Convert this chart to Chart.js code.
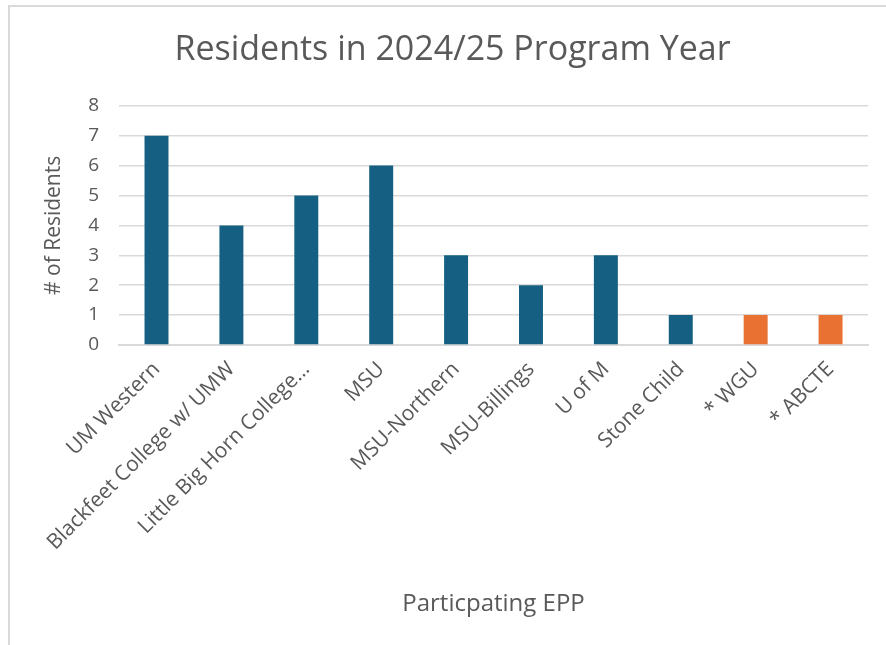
<!DOCTYPE html>
<html>
<head>
<meta charset="utf-8">
<script src="https://cdn.jsdelivr.net/npm/chart.js@4/dist/chart.umd.min.js"></script>
<style>
  html, body { margin: 0; padding: 0; background: #fff; overflow: hidden; }
  #frame {
    position: absolute; left: 8px; top: 5px; width: 900px; height: 700px;
    border: 2px solid #d9d9d9; box-sizing: border-box;
  }
  #wrap { position: absolute; left: 0; top: 0; width: 886px; height: 645px; }
</style>
</head>
<body>
<div id="frame"></div>
<div id="wrap"><canvas id="chart"></canvas></div>
<script>
  var categories = ['UM Western', 'Blackfeet College w/ UMW', 'Little Big Horn College\u2026', 'MSU',
    'MSU-Northern', 'MSU-Billings', 'U of M', 'Stone Child', '* WGU', '* ABCTE'];
  var residents = [7, 4, 5, 6, 3, 2, 3, 1, 1, 1];
  var barColors = ['#156082', '#156082', '#156082', '#156082', '#156082',
    '#156082', '#156082', '#156082', '#E97132', '#E97132'];
  var yTicks = [0, 1, 2, 3, 4, 5, 6, 7, 8];

  var FONT = "'Open Sans', sans-serif";
  var GREY = '#595959';

  new Chart(document.getElementById('chart'), {
    type: 'bar',
    data: {
      labels: categories,
      datasets: [{
        data: residents,
        backgroundColor: barColors,
        barPercentage: 0.32,
        categoryPercentage: 1.0
      }]
    },
    options: {
      responsive: true,
      maintainAspectRatio: false,
      animation: false,
      layout: { padding: { left: 37, right: 18, top: 24, bottom: 22 } },
      plugins: {
        legend: { display: false },
        tooltip: { enabled: false },
        title: {
          display: true,
          text: 'Residents in 2024/25 Program Year',
          color: GREY,
          font: { family: FONT, size: 34, weight: 'normal' },
          padding: { top: 6, bottom: 35 }
        }
      },
      scales: {
        x: {
          grid: { display: false, drawTicks: false },
          border: { color: '#d9d9d9', width: 2 },
          ticks: {
            color: GREY,
            font: { family: FONT, size: 21 },
            maxRotation: 45,
            minRotation: 45,
            autoSkip: false,
            padding: 12
          },
          title: {
            display: true,
            text: 'Particpating EPP',
            color: GREY,
            font: { family: FONT, size: 24 },
            padding: { top: 23 }
          }
        },
        y: {
          min: 0,
          max: 8,
          afterBuildTicks: function (axis) {
            axis.ticks = yTicks.map(function (v) { return { value: v }; });
          },
          grid: { color: '#d9d9d9', lineWidth: 1.5, drawTicks: false },
          border: { display: false },
          ticks: {
            color: GREY,
            font: { family: FONT, size: 19 },
            padding: 20
          },
          title: {
            display: true,
            text: '# of Residents',
            color: GREY,
            font: { family: FONT, size: 21 },
            padding: { bottom: 2 }
          }
        }
      }
    }
  });
</script>
</body>
</html>
